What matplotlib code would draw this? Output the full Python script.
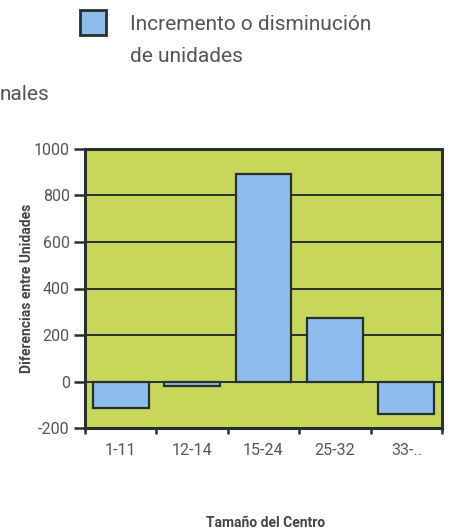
import matplotlib
matplotlib.use("Agg")
import matplotlib.pyplot as plt
from matplotlib.patches import Rectangle
import numpy as np

categories = ["1-11", "12-14", "15-24", "25-32", "33-.."]
values = [-115, -20, 893, 275, -138]
y_ticks = [-200, 0, 200, 400, 600, 800, 1000]
legend_lines = ["Incremento o disminución", "de unidades"]
ylabel = "Diferencias entre Unidades"
xlabel = "Tamaño del Centro"
fragment = "nales"

FONT = ["Liberation Sans Narrow", "Roboto", "DejaVu Sans"]
plt.rcParams["font.family"] = FONT

face = "#c6d75c"
bar_color = "#8dbdec"
dark = "#26302c"
grey = "#555555"

fig = plt.figure(figsize=(4.52, 5.31), dpi=100)
ax = fig.add_axes([85/452, 1-428/531, (442-85)/452, (428-149)/531])
ax.set_facecolor(face)

x = np.arange(len(categories))
ax.bar(x, values, width=0.78, color=bar_color, edgecolor=dark, linewidth=1.6, zorder=3)
for yv in y_ticks[1:-1]:
    ax.axhline(yv, color=dark, lw=1.4, zorder=2 if yv else 4)

ax.set_xlim(-0.5, len(categories) - 0.5)
ax.set_ylim(-200, 1000)
ax.set_yticks(y_ticks)
ax.set_yticklabels([str(v) for v in y_ticks], color=grey, fontsize=11.5)
ax.set_xticks(np.arange(len(categories) + 1) - 0.5)
ax.set_xticklabels([])
ax.tick_params(axis="y", direction="out", length=8, width=1.8, color=dark, pad=3)
ax.tick_params(axis="x", direction="out", length=4, width=1.8, color=dark)
for s in ax.spines.values():
    s.set_color(dark)
    s.set_linewidth(2.2)
for i, c in enumerate(categories):
    ax.text(i, -0.08, c, transform=ax.get_xaxis_transform(), ha="center", va="center",
            fontsize=11.5, color=grey)

ax.set_ylabel(ylabel, fontsize=10, fontweight="bold", color="#444444", labelpad=0)
fig.text(266/452, 1-523/531, xlabel, ha="center", va="center", fontsize=10,
         fontweight="bold", color="#444444")

# legend
fig.patches.append(Rectangle((80/452, 1-35/531), 26/452, 25/531, transform=fig.transFigure,
                             facecolor=bar_color, edgecolor=dark, linewidth=2))
for j, line in enumerate(legend_lines):
    fig.text(130/452, 1-(24 + 33*j)/531, line, ha="left", va="center", fontsize=15,
             color=grey)
fig.text(0/452, 1-95/531, fragment, ha="left", va="center", fontsize=15, color=grey)

fig.savefig("out.png", dpi=100)
